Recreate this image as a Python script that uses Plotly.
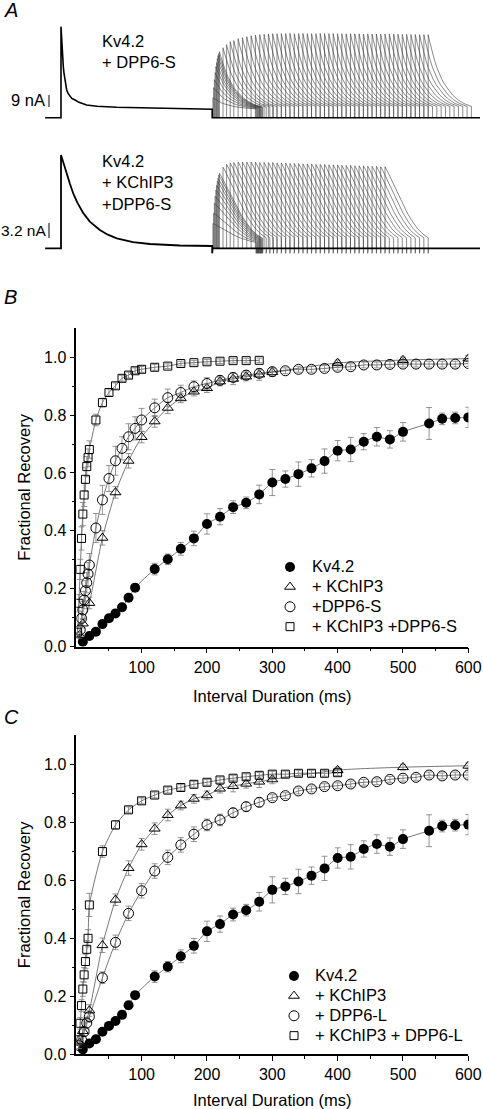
import plotly.graph_objects as go

W, H = 483, 1109
FONT = "Liberation Sans, Arial, Helvetica, sans-serif"

# ---------------- Panel B / C data (interval in ms, fractional recovery, SEM) ----------------
t_kv = [10, 20, 30, 40, 50, 60, 70, 80, 90, 120, 140, 160, 180, 200, 220, 240, 260, 280, 300,
        320, 340, 360, 380, 400, 420, 440, 460, 480, 500, 540, 560, 580, 600]
r_kv = [0.017, 0.037, 0.052, 0.078, 0.098, 0.115, 0.136, 0.169, 0.204, 0.268, 0.302, 0.338, 0.374,
        0.424, 0.449, 0.482, 0.497, 0.526, 0.567, 0.579, 0.596, 0.616, 0.641, 0.677, 0.681, 0.708,
        0.725, 0.716, 0.742, 0.771, 0.787, 0.790, 0.792]
e_kv = [0.005, 0.006, 0.008, 0.010, 0.010, 0.010, 0.012, 0.012, 0.012, 0.020, 0.018, 0.022, 0.025,
        0.035, 0.028, 0.022, 0.020, 0.032, 0.045, 0.028, 0.042, 0.030, 0.042, 0.035, 0.042, 0.028,
        0.032, 0.030, 0.032, 0.055, 0.020, 0.020, 0.035]

t_k3 = [5, 10, 20, 40, 60, 80, 100, 120, 140, 160, 180, 200, 220, 240, 260, 280, 300, 400, 500, 600]
r_k3 = [0.04, 0.08, 0.151, 0.376, 0.533, 0.642, 0.724, 0.778, 0.825, 0.858, 0.881, 0.893, 0.916,
        0.925, 0.933, 0.940, 0.948, 0.980, 0.990, 0.995]
e_k3 = [0.010, 0.015, 0.020, 0.025, 0.020, 0.025, 0.020, 0.020, 0.020, 0.015, 0.015, 0.015, 0.015,
        0.020, 0.015, 0.020, 0.015, 0.010, 0.010, 0.010]

t_s = [6, 8, 10, 12, 14, 16, 18, 20, 30, 40, 50, 60, 70, 80, 90, 100, 120, 140, 160, 180, 200,
       220, 240, 260, 280, 300, 320, 340, 360, 380, 400, 420, 440, 460, 480, 500, 520, 540, 560,
       580, 600]
r_s = [0.058, 0.098, 0.127, 0.161, 0.193, 0.221, 0.251, 0.282, 0.410, 0.507, 0.581, 0.642, 0.685,
       0.725, 0.754, 0.783, 0.825, 0.860, 0.878, 0.898, 0.909, 0.920, 0.930, 0.938, 0.944, 0.950,
       0.953, 0.958, 0.958, 0.961, 0.965, 0.967, 0.973, 0.973, 0.975, 0.976, 0.976, 0.976, 0.976,
       0.976, 0.978]
e_s = [0.020, 0.025, 0.030, 0.030, 0.035, 0.035, 0.040, 0.040, 0.050, 0.050, 0.045, 0.050, 0.040,
       0.045, 0.040, 0.040, 0.030, 0.030, 0.025, 0.020, 0.020, 0.015, 0.015, 0.015, 0.012, 0.012,
       0.010, 0.010, 0.010, 0.010, 0.010, 0.010, 0.010, 0.010, 0.010, 0.010, 0.010, 0.010, 0.010,
       0.010, 0.010]

t_ks = [2, 4, 6, 8, 10, 12, 14, 16, 18, 20, 30, 40, 50, 60, 70, 80, 90, 100, 120, 140, 160, 180,
        200, 220, 240, 260, 280]
r_ks = [0.05, 0.15, 0.267, 0.374, 0.458, 0.524, 0.578, 0.622, 0.653, 0.681, 0.783, 0.843, 0.878,
        0.901, 0.927, 0.938, 0.953, 0.958, 0.965, 0.969, 0.978, 0.981, 0.984, 0.986, 0.988, 0.988,
        0.989]
e_ks = [0.020, 0.030, 0.035, 0.040, 0.040, 0.040, 0.040, 0.035, 0.030, 0.030, 0.020, 0.015, 0.012,
        0.010, 0.010, 0.010, 0.010, 0.010, 0.010, 0.008, 0.008, 0.008, 0.008, 0.008, 0.008, 0.008,
        0.008]

t_l = [4, 8, 12, 16, 20, 40, 60, 80, 100, 120, 140, 160, 180, 200, 220, 240, 260, 280, 300, 320,
       340, 360, 380, 400, 420, 440, 460, 480, 500, 520, 540, 560, 580, 600]
r_l = [0.030, 0.050, 0.078, 0.108, 0.130, 0.264, 0.386, 0.486, 0.564, 0.632, 0.679, 0.722, 0.759,
       0.791, 0.808, 0.833, 0.854, 0.869, 0.885, 0.892, 0.908, 0.915, 0.923, 0.926, 0.932, 0.938,
       0.940, 0.948, 0.952, 0.955, 0.963, 0.960, 0.963, 0.963]
e_l = [0.010, 0.015, 0.015, 0.020, 0.020, 0.020, 0.025, 0.025, 0.025, 0.025, 0.025, 0.025, 0.025,
       0.020, 0.020, 0.015, 0.015, 0.015, 0.010, 0.010, 0.010, 0.010, 0.010, 0.010, 0.010, 0.010,
       0.010, 0.010, 0.010, 0.010, 0.010, 0.010, 0.010, 0.010]

t_kl = [4, 6, 8, 10, 12, 14, 16, 18, 20, 40, 60, 80, 100, 120, 140, 160, 180, 200, 220, 240, 260,
        280, 300, 320, 340, 360, 380, 400]
r_kl = [0.050, 0.107, 0.168, 0.225, 0.274, 0.320, 0.362, 0.400, 0.515, 0.699, 0.791, 0.843, 0.874,
        0.894, 0.911, 0.920, 0.931, 0.938, 0.946, 0.952, 0.957, 0.962, 0.966, 0.966, 0.969, 0.969,
        0.969, 0.971]
e_kl = [0.015, 0.020, 0.020, 0.025, 0.025, 0.025, 0.030, 0.030, 0.040, 0.020, 0.015, 0.010, 0.010,
        0.010, 0.010, 0.010, 0.010, 0.010, 0.010, 0.010, 0.010, 0.010, 0.010, 0.010, 0.010, 0.010,
        0.010, 0.010]

x_ticks = [100, 200, 300, 400, 500, 600]
x_minor = [50, 150, 250, 350, 450, 550]
y_ticks = [0.0, 0.2, 0.4, 0.6, 0.8, 1.0]
y_ticktext = ["0.0", "0.2", "0.4", "0.6", "0.8", "1.0"]
y_minor = [0.1, 0.3, 0.5, 0.7, 0.9]

# ---------------- Panel A data (current traces, ms / nA) ----------------
PRE_DUR = 420      # conditioning pulse, ms
TEST_DUR = 120     # test pulse, ms
T_START, T_END = -44, 1164

pre_t_top = [0, 1.5, 3, 4.5, 6.4, 8, 10, 12.5, 15.8, 20, 25, 30, 39, 50, 71, 100, 155, 247, 330, 420]
pre_i_top = [68.3, 58, 50, 44, 38.3, 34, 29.5, 25, 20.8, 18, 16, 14.5, 13.3, 11.5, 9.5, 8.6, 7.8,
             7.3, 6.8, 6.3]
pre_t_bot = [0, 5, 10, 15.8, 25, 34, 45, 62, 80, 108, 130, 155, 200, 247, 330, 420]
pre_i_bot = [19.9, 18.6, 17.4, 16.0, 13.7, 11.7, 9.8, 7.5, 5.7, 3.9, 2.9, 2.1, 1.3, 0.92, 0.6, 0.49]

int_top = [2, 4, 6, 8, 10, 12, 14, 16, 18, 20, 30, 40, 50] + list(range(60, 601, 12))
peak_top = [15.0, 22.5, 28.5, 33.8, 38.3, 41.3, 44.3, 46.5, 48.0, 49.5, 52.5, 54.8, 57.0,
            57.8, 59.3, 60.0, 60.8, 61.5, 61.9, 62.3, 62.6, 62.8, 63.0, 63.0, 63.1, 63.0, 63.2,
            63.0, 63.1, 63.2, 63.0, 63.1, 63.0, 63.2, 63.1, 63.0, 63.1, 63.0, 63.0, 62.9, 63.0,
            62.9, 62.9, 62.8, 62.9, 62.8, 62.8, 62.7, 62.8, 62.7, 62.6, 62.6, 62.5, 62.5, 62.4,
            62.4, 62.3, 62.3, 62.3]
ss_top = 6.3
off_top = [0, 4, 8, 13, 18, 24, 30, 38, 46, 56, 68, 82, 98, 119]
frac_top = [1.0, 0.91, 0.83, 0.74, 0.65, 0.56, 0.48, 0.40, 0.33, 0.26, 0.19, 0.13, 0.08, 0.04]

int_bot = [2, 4, 6, 8, 10, 12, 14, 16, 18, 20, 30, 40, 50] + list(range(60, 481, 12))
peak_bot = [5.3, 7.5, 9.6, 11.1, 12.4, 13.4, 14.3, 14.9, 15.6, 16.0, 17.3, 17.9, 18.2, 18.3,
            18.4, 18.4, 18.4, 18.4, 18.4, 18.3, 18.3, 18.3, 18.3, 18.2, 18.2, 18.2, 18.1, 18.1,
            18.1, 18.0, 18.0, 18.0, 17.9, 17.9, 17.9, 17.8, 17.8, 17.8, 17.7, 17.7, 17.7, 17.6,
            17.6, 17.6, 17.5, 17.5, 17.5, 17.4, 17.4]
ss_bot = 0.92
off_bot = [0, 6, 14, 22, 30, 40, 50, 62, 75, 90, 105, 119]
frac_bot = [1.0, 0.95, 0.87, 0.79, 0.70, 0.60, 0.50, 0.40, 0.30, 0.20, 0.13, 0.08]
under_bot = -1.07

# ---------------- geometry helpers (pixel -> paper) ----------------
def fx(px):
    return px / W


def fy(py):
    return 1 - py / H


fig = go.Figure()

# ---------------- Panel A traces ----------------
def pre_trace(pre_t, pre_i, undershoot):
    xs = [T_START, 0] + pre_t + [PRE_DUR, PRE_DUR, PRE_DUR + 1, T_END]
    ys = [0, 0] + pre_i + [pre_i[-1], undershoot, 0, 0]
    return xs, ys


def sweeps(intervals, peaks, ss, offs, fracs, undershoot):
    xs, ys = [], []
    for d, p in zip(intervals, peaks):
        t0 = PRE_DUR + d
        xs += [t0, t0]
        ys += [0, p]
        for o, f in zip(offs[1:], fracs[1:]):
            xs.append(t0 + o)
            ys.append(ss + (p - ss) * f)
        te = t0 + TEST_DUR
        xs += [te, te, te + 1, None]
        ys += [ys[-1], undershoot, 0, None]
    return xs, ys


sx, sy = sweeps(int_top, peak_top, ss_top, off_top, frac_top, 0)
fig.add_trace(go.Scatter(x=sx, y=sy, mode="lines", xaxis="x3", yaxis="y3",
                         line=dict(color="#3a3a3a", width=0.6), showlegend=False, hoverinfo="skip"))
px_, py_ = pre_trace(pre_t_top, pre_i_top, 0)
fig.add_trace(go.Scatter(x=px_, y=py_, mode="lines", xaxis="x3", yaxis="y3",
                         line=dict(color="black", width=1.6), showlegend=False, hoverinfo="skip"))

sx, sy = sweeps(int_bot, peak_bot, ss_bot, off_bot, frac_bot, under_bot)
fig.add_trace(go.Scatter(x=sx, y=sy, mode="lines", xaxis="x4", yaxis="y4",
                         line=dict(color="#3a3a3a", width=0.6), showlegend=False, hoverinfo="skip"))
px_, py_ = pre_trace(pre_t_bot, pre_i_bot, under_bot)
fig.add_trace(go.Scatter(x=px_, y=py_, mode="lines", xaxis="x4", yaxis="y4",
                         line=dict(color="black", width=1.8), showlegend=False, hoverinfo="skip"))

# ---------------- Panels B and C ----------------
M_FILLED = dict(symbol="circle", size=10, color="black", line=dict(width=0))
M_TRI = dict(symbol="triangle-up-open", size=9.5, color="black", line=dict(width=1, color="black"))
M_CIRC = dict(symbol="circle-open", size=10, color="black", line=dict(width=1, color="black"))
M_SQ = dict(symbol="square-open", size=8, color="black", line=dict(width=1, color="black"))


def leg_name(s):
    return '<span style="font-size:16.5px">' + s + '</span>'


panels = [
    ("x", "y", "legend", [
        ("Kv4.2", t_kv, r_kv, e_kv, M_FILLED),
        ("+ KChIP3", t_k3, r_k3, e_k3, M_TRI),
        ("+DPP6-S", t_s, r_s, e_s, M_CIRC),
        ("+ KChIP3 +DPP6-S", t_ks, r_ks, e_ks, M_SQ),
    ]),
    ("x2", "y2", "legend2", [
        ("Kv4.2", t_kv, r_kv, e_kv, M_FILLED),
        ("+ KChIP3", t_k3, r_k3, e_k3, M_TRI),
        ("+ DPP6-L", t_l, r_l, e_l, M_CIRC),
        ("+ KChIP3 + DPP6-L", t_kl, r_kl, e_kl, M_SQ),
    ]),
]

for xa, ya, lg, series in panels:
    for name, t, r, e, m in series:
        fig.add_trace(go.Scatter(x=t, y=r, mode="lines", xaxis=xa, yaxis=ya,
                                 line=dict(color="#555555", width=0.8, shape="spline", smoothing=0.6),
                                 showlegend=False, hoverinfo="skip"))
    for name, t, r, e, m in series:
        fig.add_trace(go.Scatter(x=t, y=r, mode="markers", xaxis=xa, yaxis=ya, name=leg_name(name),
                                 marker=m, legend=lg,
                                 error_y=dict(type="data", array=e, visible=True, color="#7a7a7a",
                                              thickness=0.8, width=3)))

axis_common = dict(showline=True, linecolor="black", linewidth=1.5, ticks="outside", ticklen=5,
                   tickwidth=1, tickcolor="black", showgrid=False, zeroline=False,
                   tickfont=dict(family=FONT, size=16, color="black"), automargin=False)

x_common = dict(axis_common, range=[0, 600], tickmode="array", tickvals=x_ticks,
                minor=dict(tickmode="array", tickvals=x_minor, ticklen=3, tickwidth=1,
                           ticks="outside", tickcolor="black"),
                title=dict(text="Interval Duration (ms)", font=dict(family=FONT, size=16.5,
                                                                   color="black"), standoff=16))
y_common = dict(axis_common, range=[0, 1.1], tickmode="array", tickvals=y_ticks,
                ticktext=y_ticktext,
                minor=dict(tickmode="array", tickvals=y_minor, ticklen=3, tickwidth=1,
                           ticks="outside", tickcolor="black"),
                title=dict(text="Fractional Recovery", font=dict(family=FONT, size=16.5,
                                                                color="black"), standoff=9))

fig.update_layout(
    template="none",
    width=W, height=H, autosize=False,
    margin=dict(l=0, r=0, t=0, b=0, pad=0),
    paper_bgcolor="white", plot_bgcolor="rgba(0,0,0,0)",
    font=dict(family=FONT, size=16, color="black"),
    xaxis=dict(x_common, domain=[fx(76.3), fx(468.3)], anchor="y"),
    yaxis=dict(y_common, domain=[fy(646.7), fy(328.2)], anchor="x"),
    xaxis2=dict(x_common, domain=[fx(76.3), fx(468.3)], anchor="y2"),
    yaxis2=dict(y_common, domain=[fy(1054.3), fy(735.3)], anchor="x2"),
    xaxis3=dict(domain=[0, 1], range=[(0 - 61) / 0.36, (W - 61) / 0.36], visible=False,
                anchor="y3", fixedrange=True),
    yaxis3=dict(domain=[fy(125), fy(20)], range=[-(125 - 117.7) * 0.75, (117.7 - 20) * 0.75],
                visible=False, anchor="x3"),
    xaxis4=dict(domain=[0, 1], range=[(0 - 61) / 0.36, (W - 61) / 0.36], visible=False,
                anchor="y4", fixedrange=True),
    yaxis4=dict(domain=[fy(258), fy(145)], range=[-(258 - 248.3) * 0.2133, (248.3 - 145) * 0.2133],
                visible=False, anchor="x4"),
    legend=dict(x=fx(268), y=fy(552), xanchor="left", yanchor="top", bgcolor="rgba(0,0,0,0)",
                borderwidth=0, font=dict(family=FONT, size=13, color="black"),
                tracegroupgap=0, itemwidth=34),
    legend2=dict(x=fx(273), y=fy(961), xanchor="left", yanchor="top", bgcolor="rgba(0,0,0,0)",
                 borderwidth=0, font=dict(family=FONT, size=13, color="black"),
                 tracegroupgap=0, itemwidth=32),
    showlegend=True,
)

# scale bars for panel A
fig.add_shape(type="line", xref="x3", yref="y3", x0=-33.3, x1=-33.3, y0=8, y1=17,
              line=dict(color="black", width=1))
fig.add_shape(type="line", xref="x4", yref="y4", x0=-33.3, x1=-33.3, y0=2.2, y1=5.4,
              line=dict(color="black", width=1))

ann_font = dict(family=FONT, size=16.5, color="black")
annotations = [
    dict(text="<i>A</i>", x=fx(2), y=fy(10), xanchor="left", yanchor="middle",
         font=dict(family=FONT, size=20, color="black")),
    dict(text="<i>B</i>", x=fx(2), y=fy(297), xanchor="left", yanchor="middle",
         font=dict(family=FONT, size=20, color="black")),
    dict(text="<i>C</i>", x=fx(2), y=fy(717), xanchor="left", yanchor="middle",
         font=dict(family=FONT, size=20, color="black")),
    dict(text="Kv4.2<br>+ DPP6-S", x=fx(100), y=fy(52), xanchor="left", yanchor="middle",
         align="left", font=ann_font),
    dict(text="Kv4.2<br>+ KChIP3<br>+DPP6-S", x=fx(100), y=fy(182), xanchor="left",
         yanchor="middle", align="left", font=ann_font),
    dict(text="9 nA", x=fx(47), y=fy(100), xanchor="right", yanchor="middle", font=ann_font),
    dict(text="3.2 nA", x=fx(47.5), y=fy(231), xanchor="right", yanchor="middle",
         font=dict(family=FONT, size=15.5, color="black")),
]
for a in annotations:
    fig.add_annotation(xref="paper", yref="paper", showarrow=False, **a)

fig.write_html("out.html", config={"displayModeBar": False},
               post_script="document.body.style.margin='0';document.body.style.padding='0';"
                           "document.body.style.overflow='hidden';")
